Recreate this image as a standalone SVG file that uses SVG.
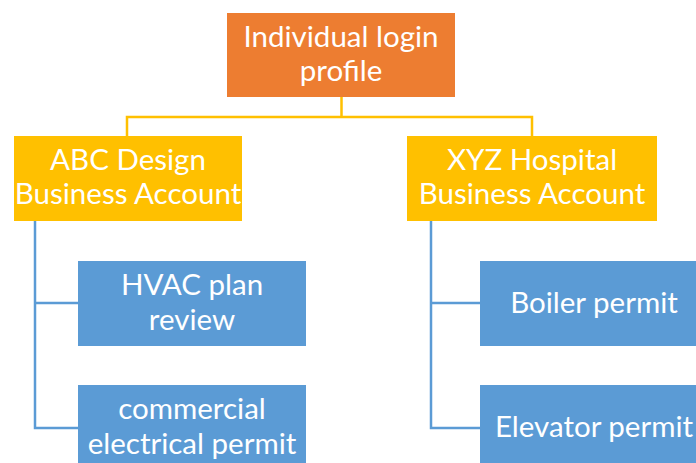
<svg xmlns="http://www.w3.org/2000/svg" width="696" height="463" viewBox="0 0 696 463">
  <style>
    .lbl { font-family: Lato, "Open Sans", "Liberation Sans", sans-serif; font-size: 29.5px; fill: #ffffff; text-anchor: middle; }
    .root { fill: #ED7D31; }
    .acct { fill: #FFC000; }
    .item { fill: #5B9BD5; }
    .gold { stroke: #FFC000; stroke-width: 2.5; fill: none; }
    .blue { stroke: #5B9BD5; stroke-width: 2.5; fill: none; }
  </style>
  <rect width="696" height="463" fill="#ffffff"/>
  <g id="connectors">
    <path class="gold" d="M341.5 97 V117 M127 136 V117 H532 V136"/>
    <path class="blue" d="M35 221 V428 H78 M35 303 H78"/>
    <path class="blue" d="M431 221 V428 H480 M431 303 H480"/>
  </g>
  <g id="individual-login-profile">
    <rect class="root" x="227" y="13" width="228" height="84"/>
    <text class="lbl" x="341" y="47">Individual login</text>
    <text class="lbl" x="341" y="81">profile</text>
  </g>
  <g id="abc-design">
    <rect class="acct" x="14" y="136" width="228" height="85"/>
    <text class="lbl" x="128" y="170">ABC Design</text>
    <text class="lbl" x="128" y="204">Business Account</text>
  </g>
  <g id="xyz-hospital">
    <rect class="acct" x="407" y="136" width="250" height="85"/>
    <text class="lbl" x="532" y="170">XYZ Hospital</text>
    <text class="lbl" x="532" y="204">Business Account</text>
  </g>
  <g id="hvac-plan-review">
    <rect class="item" x="78" y="261" width="228" height="85"/>
    <text class="lbl" x="192" y="295">HVAC plan</text>
    <text class="lbl" x="192" y="330">review</text>
  </g>
  <g id="commercial-electrical-permit">
    <rect class="item" x="78" y="385" width="228" height="85"/>
    <text class="lbl" x="192" y="419">commercial</text>
    <text class="lbl" x="192" y="454">electrical permit</text>
  </g>
  <g id="boiler-permit">
    <rect class="item" x="480" y="261" width="228" height="85"/>
    <text class="lbl" x="594" y="313">Boiler permit</text>
  </g>
  <g id="elevator-permit">
    <rect class="item" x="480" y="385" width="228" height="85"/>
    <text class="lbl" x="594" y="437">Elevator permit</text>
  </g>
</svg>
